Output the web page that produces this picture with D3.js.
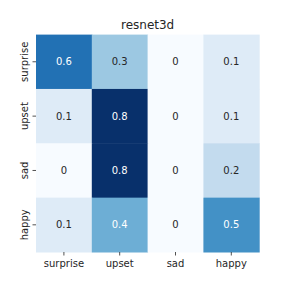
<!DOCTYPE html>
<html><head><meta charset="utf-8">
<script src="https://cdn.jsdelivr.net/npm/d3@7"></script>
<style>body{margin:0;background:#fff}text{font-family:"DejaVu Sans",sans-serif}</style>
</head><body><svg id="c" width="288" height="288"></svg>
<script>
const rowLabels = ["surprise","upset","sad","happy"];
const colLabels = ["surprise","upset","sad","happy"];
const values = [
  [0.6,0.3,0,0.1],
  [0.1,0.8,0,0.1],
  [0,0.8,0,0.2],
  [0.1,0.4,0,0.5]
];
const title = "resnet3d";

const svg = d3.select("#c");
const L=36,R=259.2,T=34.6,B=252;
const x = d3.scaleBand().domain(colLabels).range([L,R]);
const y = d3.scaleBand().domain(rowLabels).range([T,B]);
const vmax = d3.max(values.flat());
const color = d3.scaleSequential(d3.interpolateBlues).domain([0,vmax]);

const cells = [];
values.forEach((row,i)=>row.forEach((v,j)=>cells.push({r:rowLabels[i],c:colLabels[j],v})));
svg.selectAll("rect.cell").data(cells).enter().append("rect")
  .attr("x",d=>x(d.c)).attr("y",d=>y(d.r))
  .attr("width",x.bandwidth()+0.5).attr("height",y.bandwidth()+0.5)
  .attr("fill",d=>color(d.v));
function lum(c){const o=d3.rgb(c);const f=v=>{v/=255;return v<=0.03928?v/12.92:Math.pow((v+0.055)/1.055,2.4)};return 0.2126*f(o.r)+0.7152*f(o.g)+0.0722*f(o.b);}
svg.selectAll("text.ann").data(cells).enter().append("text")
  .attr("x",d=>x(d.c)+x.bandwidth()/2).attr("y",d=>y(d.r)+y.bandwidth()/2)
  .attr("text-anchor","middle").attr("dy","0.35em").attr("font-size",10)
  .attr("fill",d=>lum(color(d.v))>0.408?"#262626":"#ffffff")
  .text(d=>d.v===0?"0":d3.format(".1f")(d.v));

const xa = svg.append("g").attr("transform",`translate(0,${B})`).call(d3.axisBottom(x).tickSize(3.5).tickPadding(4.5));
const ya = svg.append("g").attr("transform",`translate(${L},0)`).call(d3.axisLeft(y).tickSize(3.5).tickPadding(3.5));
[xa,ya].forEach(a=>{a.select(".domain").remove();a.selectAll("text").attr("font-size",10).attr("fill","#262626").attr("font-family","DejaVu Sans");a.selectAll("line").attr("stroke","#262626").attr("stroke-width",0.8);});
ya.selectAll("text").each(function(d){
  const t=d3.select(this);t.attr("x",null).attr("dy","0em").attr("text-anchor","middle")
   .attr("transform",`translate(-8,0) rotate(-90)`);
});
svg.append("text").attr("x",(L+R)/2).attr("y",T-6).attr("text-anchor","middle").attr("font-size",12).attr("fill","#262626").text(title);
</script></body></html>
